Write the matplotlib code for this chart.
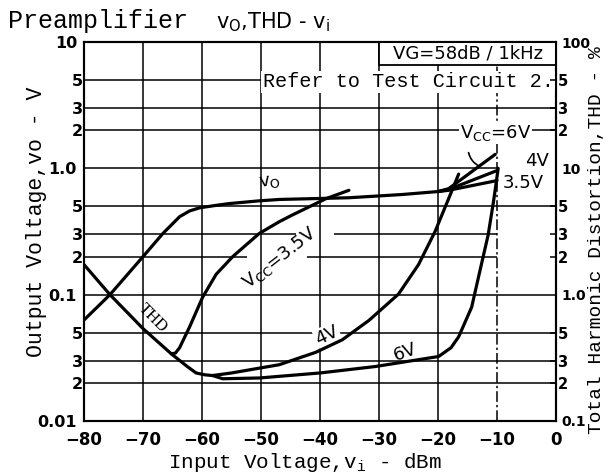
import matplotlib
matplotlib.use('Agg')
import matplotlib.pyplot as plt
from matplotlib.ticker import FixedLocator, FixedFormatter
from matplotlib.patches import Rectangle

# ---------------- data ----------------
# Output voltage (V) vs input (dBm), common part
vo_x = [-80, -75.6, -70, -66.6, -63.8, -62.1, -60.4, -57.5, -55.4, -50.3, -46.9, -35.1, -26.2, -20.0]
vo_y = [0.063, 0.1, 0.2, 0.306, 0.414, 0.46, 0.487, 0.51, 0.526, 0.553, 0.567, 0.585, 0.62, 0.655]
# saturation branches for each Vcc
vo6_x = [-20.0, -18.2, -10.3]
vo6_y = [0.655, 0.69, 1.29]
vo4_x = [-20.0, -18.2, -10.0]
vo4_y = [0.655, 0.68, 0.96]
vo35_x = [-20.0, -18.2, -10.0]
vo35_y = [0.655, 0.67, 0.80]

# THD (%) vs input (dBm), common part
thd_x = [-80, -75.6, -70, -65.2, -62.5, -61.0, -59.5, -58.2]
thd_y = [1.73, 1.0, 0.539, 0.34, 0.27, 0.24, 0.232, 0.229]
# branches
thd35_x = [-65.2, -64.5, -63.8, -62.1, -59.9, -57.6, -54.8, -50.3, -46.9, -44.7, -39.0, -35.1]
thd35_y = [0.34, 0.345, 0.38, 0.556, 0.953, 1.45, 2.0, 3.05, 3.78, 4.27, 5.75, 6.7]
thd4_x = [-58.2, -55.0, -50.3, -46.9, -40.7, -36.2, -31.7, -26.7, -23.3, -20.5, -18.2, -16.5]
thd4_y = [0.229, 0.24, 0.262, 0.279, 0.35, 0.44, 0.626, 1.01, 1.73, 3.16, 5.75, 9.0]
thd6_x = [-58.2, -56.5, -50.3, -40.0, -30.6, -19.9, -17.8, -16.5, -14.3, -12.9, -11.5, -10.6, -10.05, -9.8]
thd6_y = [0.229, 0.216, 0.219, 0.24, 0.27, 0.324, 0.38, 0.464, 0.795, 1.54, 2.97, 5.42, 8.24, 10.0]

x_ticks = [-80, -70, -60, -50, -40, -30, -20, -10, 0]
x_ticklabels = ['\u221280', '\u221270', '\u221260', '\u221250', '\u221240',
                '\u221230', '\u221220', '\u221210', '0']
left_major = [0.01, 0.1, 1.0, 10]
left_major_labels = ['0.01', '0.1', '1.0', '10']
left_minor = [0.02, 0.03, 0.05, 0.2, 0.3, 0.5, 2, 3, 5]
left_minor_labels = ['2', '3', '5'] * 3
right_major = [0.1, 1.0, 10, 100]
right_major_labels = ['0.1', '1.0', '10', '100']
right_minor = [0.2, 0.3, 0.5, 2, 3, 5, 20, 30, 50]
right_minor_labels = ['2', '3', '5'] * 3

# ---------------- figure ----------------
W, H = 606, 472
fig = plt.figure(figsize=(W / 100, H / 100), dpi=100)
L, R, T, B = 84, 556, 42, 421
ax = fig.add_axes([L / W, 1 - B / H, (R - L) / W, (B - T) / H])
ax.set_xlim(-80, 0)
ax.set_yscale('log')
ax.set_ylim(0.01, 10)

ax2 = ax.twinx()
ax2.set_yscale('log')
ax2.set_ylim(0.1, 100)

mono = 'Liberation Mono'
glw = 1.1

# grid lines
for xv in [-70, -60, -50, -40, -30, -20]:
    ax.axvline(xv, color='black', lw=glw, zorder=1)
ax.axvline(-10, color='black', lw=glw, ls=(0, (7, 2, 1.5, 2)), zorder=1)
for yv in [5, 3, 2, 0.5, 0.1, 0.05, 0.03, 0.02]:
    ax.axhline(yv, color='black', lw=glw, zorder=1)
ax.hlines(1.0, -80, -10, color='black', lw=glw, zorder=1)
ax.hlines(0.3, -80, -44, color='black', lw=glw, zorder=1)
ax.hlines(0.3, -37.6, -10, color='black', lw=glw, zorder=1)
ax.hlines(0.2, -80, -52.4, color='black', lw=glw, zorder=1)
ax.hlines(0.2, -42.2, -10, color='black', lw=glw, zorder=1)

# curves
clw = 2.3
kw = dict(color='black', lw=clw, solid_joinstyle='round', solid_capstyle='round', zorder=5)
ax.plot(vo_x, vo_y, **kw)
ax.plot(vo6_x, vo6_y, **kw)
ax.plot(vo4_x, vo4_y, **kw)
ax.plot(vo35_x, vo35_y, **kw)
ax2.plot(thd_x, thd_y, **kw)
ax2.plot(thd35_x, thd35_y, **kw)
ax2.plot(thd4_x, thd4_y, **kw)
ax2.plot(thd6_x, thd6_y, **kw)

# condition box
ax.add_patch(Rectangle((-30, 6.58), 30, 10 - 6.58, facecolor='white',
                       edgecolor='black', lw=1.3, zorder=3))
ax.text(-14.9, 8.1, 'VG=58dB / 1kHz', fontsize=13, ha='center', va='center', zorder=4)
ax.text(-0.4, 4.85, 'Refer to Test Circuit 2.', family=mono, fontsize=14.5,
        ha='right', va='center', zorder=4,
        bbox=dict(facecolor='white', edgecolor='none', pad=1))

# curve labels
wb = dict(facecolor='white', edgecolor='none', pad=0.5)
ax.text(-48.5, 0.78, r'v$_\mathregular{O}$', fontsize=13, rotation=8,
        ha='center', va='center', zorder=4)
ax.text(-68.3, 0.065, 'THD', family='Liberation Serif', fontsize=12, rotation=-45,
        ha='center', va='center', zorder=4)
ax.text(-46.8, 0.195, r'V$_\mathregular{CC}$=3.5V', fontsize=13, rotation=38,
        ha='center', va='center', zorder=4)
ax.text(-38.8, 0.048, '4V', fontsize=13, rotation=25, ha='center', va='center',
        zorder=4, bbox=wb)
ax.text(-25.6, 0.0352, '6V', fontsize=13, rotation=20, ha='center', va='center', zorder=4)
ax.text(-10.3, 1.9, r'V$_\mathregular{CC}$=6V', fontsize=13, ha='center', va='center',
        zorder=4, bbox=wb)
ax.text(-3.2, 1.14, '4V', fontsize=13, ha='center', va='center', zorder=4)
ax.text(-5.6, 0.77, '3.5V', fontsize=13, ha='center', va='center', zorder=4)
ax.annotate('', xy=(-12.6, 1.02), xytext=(-14.9, 1.4),
            arrowprops=dict(arrowstyle='-', lw=1.2, color='black',
                            connectionstyle='arc3,rad=0.3'), zorder=4)

# ticks
ax.set_xticks(x_ticks)
ax.set_xticklabels(x_ticklabels, fontsize=12, fontweight='bold')
ax.tick_params(axis='x', length=0, pad=7)
ax.yaxis.set_major_locator(FixedLocator(left_major))
ax.yaxis.set_major_formatter(FixedFormatter(left_major_labels))
ax.yaxis.set_minor_locator(FixedLocator(left_minor))
ax.yaxis.set_minor_formatter(FixedFormatter(left_minor_labels))
ax.tick_params(axis='y', which='major', length=0, pad=5, labelsize=11.5)
ax.tick_params(axis='y', which='minor', length=0, pad=1, labelsize=11.5)
ax2.yaxis.set_major_locator(FixedLocator(right_major))
ax2.yaxis.set_major_formatter(FixedFormatter(right_major_labels))
ax2.yaxis.set_minor_locator(FixedLocator(right_minor))
ax2.yaxis.set_minor_formatter(FixedFormatter(right_minor_labels))
ax2.tick_params(axis='y', which='major', length=0, pad=4, labelsize=10)
ax2.tick_params(axis='y', which='minor', direction='in', length=4, width=1.1, pad=1,
                labelsize=10.5)
for t in ax.get_yticklabels(which='both') + ax2.get_yticklabels(which='both'):
    t.set_fontweight('bold')

for a in (ax, ax2):
    for s in a.spines.values():
        s.set_linewidth(1.5)

# titles and axis labels
fig.text(8 / W, 1 - 21 / H, 'Preamplifier', family=mono, fontsize=18,
         ha='left', va='center')
fig.text(216 / W, 1 - 22 / H, r'v$_\mathregular{O}$,THD - v$_\mathregular{i}$',
         fontsize=15, ha='left', va='center')
fig.text(305 / W, 1 - 462 / H, r'Input Voltage,v$_\mathregular{i}$ - dBm', family=mono,
         fontsize=15, ha='center', va='center')
fig.text(37 / W, 1 - 222 / H, 'Output Voltage,vo - V', family=mono, fontsize=15.5,
         rotation=90, ha='center', va='center')
fig.text(596 / W, 1 - 240 / H, 'Total Harmonic Distortion,THD - %', family=mono,
         fontsize=14, rotation=90, ha='center', va='center')

fig.savefig('out.png', dpi=100, facecolor='white')
